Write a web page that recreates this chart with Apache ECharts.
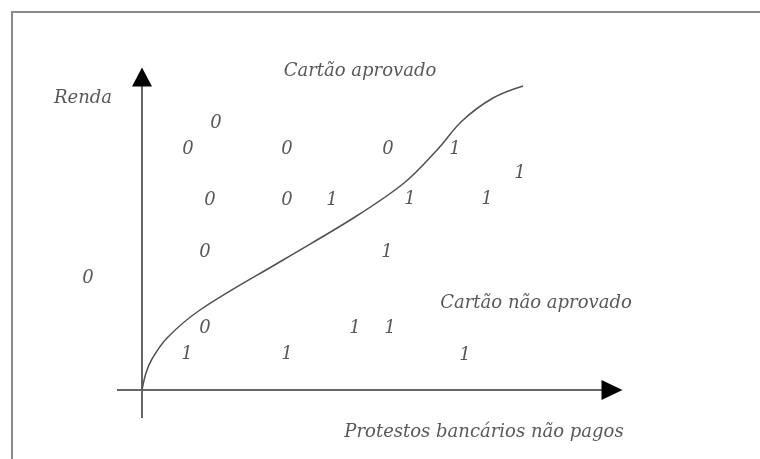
<!DOCTYPE html>
<html>
<head>
<meta charset="utf-8">
<script src="https://cdn.jsdelivr.net/npm/echarts@6/dist/echarts.min.js"></script>
<style>
html,body{margin:0;padding:0;background:#fff;}
#chart{width:760px;height:459px;}
</style>
</head>
<body>
<div id="chart"></div>
<script>
// Data (chart units: origin at the axes' crossing, y upward)
const curvePoints = [[0,0],[4,17],[10,31],[25,52],[58,80],[141,130],[213,173],[262,207],[295,240],[320,269],[351,292],[381,304]];
const zeros = [[74,267],[46,241],[145,241],[246,241],[68,190],[145,190],[63,138],[-54,112],[63,62]];
const ones = [[190,190],[313,241],[378,217],[268,191],[345,191],[245,138],[248,62],[213,62],[45,36],[145,36],[323,35]];
const textLabels = [
  {name:'Renda', value:[-59,292]},
  {name:'Cartão aprovado', value:[218,319]},
  {name:'Cartão não aprovado', value:[394,87]},
  {name:'Protestos bancários não pagos', value:[342,-42]}
];
const xAxisLine = [[-25,0],[470,0]];
const yAxisLine = [[0,-28],[0,313]];

const chart = echarts.init(document.getElementById('chart'), null, {renderer:'canvas'});
const font = {fontFamily:'DejaVu Serif', fontStyle:'italic', fontSize:18, color:'#2e2e2e'};
function textSeries(name, data, fmt){
  return {
    name, type:'scatter', data, symbolSize:1, itemStyle:{color:'rgba(0,0,0,0)'}, clip:false, silent:true,
    label:{show:true, position:'inside', formatter:fmt, ...font}, labelLayout:{hideOverlap:false}, z:5
  };
}
chart.setOption({
  animation:false,
  backgroundColor:'#fff',
  grid:{left:0,right:0,top:0,bottom:0},
  xAxis:{type:'value', min:-142, max:618, show:false},
  yAxis:{type:'value', min:-69, max:390, show:false},
  graphic:[{type:'rect', shape:{x:12,y:12,width:800,height:500}, style:{fill:'none', stroke:'#8a8a8a', lineWidth:2}, z:0}],
  series:[
    {type:'line', data:xAxisLine, showSymbol:false, symbol:'none', lineStyle:{color:'#666', width:2}, silent:true},
    {type:'line', data:yAxisLine, showSymbol:false, symbol:'none', lineStyle:{color:'#666', width:2}, silent:true},
    {type:'scatter', data:[xAxisLine[1]], symbol:'triangle', symbolSize:[20,21], symbolRotate:-90, itemStyle:{color:'#000', opacity:1}, silent:true, z:4},
    {type:'scatter', data:[yAxisLine[1]], symbol:'triangle', symbolSize:[20,19], itemStyle:{color:'#000', opacity:1}, silent:true, z:4},
    {type:'line', data:curvePoints, smooth:0.35, showSymbol:false, symbol:'none', lineStyle:{color:'#505050', width:1.5}, silent:true},
    textSeries('zeros', zeros, '0'),
    textSeries('ones', ones, '1'),
    textSeries('texts', textLabels, p => p.name)
  ]
});
</script>
</body>
</html>
